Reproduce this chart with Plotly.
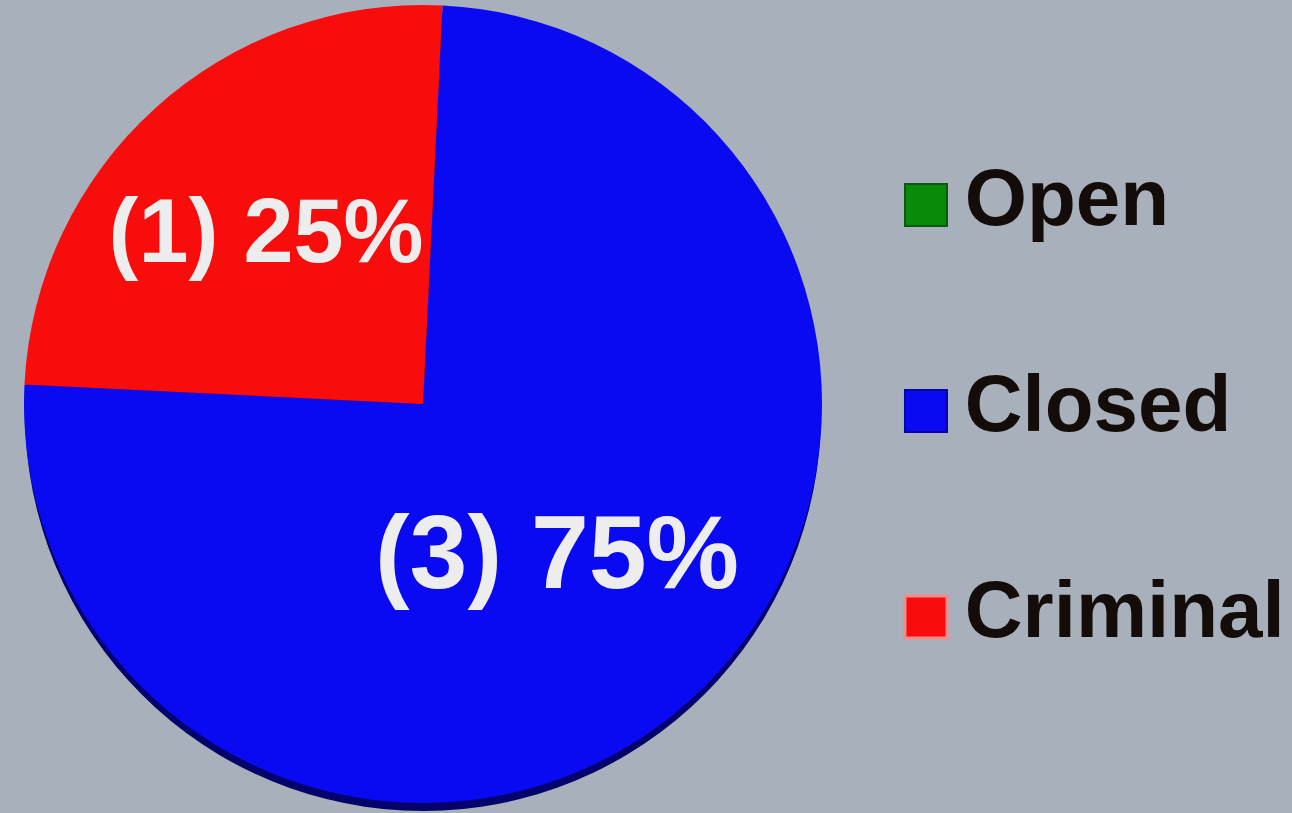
import plotly.graph_objects as go

# ---- data ----
categories = ["Open", "Closed", "Criminal"]
counts = [0, 3, 1]
slice_colors = ["#0A8A0A", "#0A0AF2", "#F80C0C"]
rim_colors = ["#064006", "#03036A", "#700606"]
legend_border = ["#0B5A0B", "#0606A8", "#F28C8C"]
legend_border_w = [2, 2, 3]

BG = "#A8B0BB"
FONT = "Liberation Sans, Arial, sans-serif"

W, H = 1292, 813
CX, CY, R = 423, 404, 399   # pie centre / radius in px
RIM = 9                      # thickness of the darker rim below


def dom(cx, cy, r):
    return dict(x=[(cx - r) / W, (cx + r) / W],
                y=[1 - (cy + r) / H, 1 - (cy - r) / H])


fig = go.Figure()

# darker rim (pie thickness)
fig.add_trace(go.Pie(
    labels=categories, values=counts, sort=False,
    direction="clockwise", rotation=2.8,
    marker=dict(colors=rim_colors, line=dict(width=0)),
    textinfo="none", domain=dom(CX, CY + RIM, R - 1),
    showlegend=False, hoverinfo="skip",
))

fig.add_trace(go.Pie(
    labels=categories,
    values=counts,
    sort=False,
    direction="clockwise",
    rotation=2.8,
    marker=dict(colors=slice_colors, line=dict(width=0)),
    texttemplate="(%{value}) %{percent}",
    textposition="inside",
    insidetextorientation="horizontal",
    insidetextfont=dict(family=FONT, size=104, color="#EDEDED", weight="bold"),
    domain=dom(CX, CY, R),
    showlegend=False,
    hoverinfo="label+value+percent",
))

# legend drawn as a categorical scatter (markers + labels)
fig.add_trace(go.Scatter(
    x=[0] * len(categories),
    y=categories,
    mode="markers",
    marker=dict(symbol="square", size=42, color=slice_colors,
                line=dict(color=legend_border, width=legend_border_w)),
    xaxis="x2", yaxis="y2",
    cliponaxis=False, showlegend=False, hoverinfo="skip",
))
fig.add_trace(go.Scatter(
    x=[0.1] * len(categories),
    y=categories,
    mode="text",
    text=categories,
    textposition="middle right",
    textfont=dict(family=FONT, size=80, color="#140C08", weight="bold"),
    xaxis="x2", yaxis="y2",
    cliponaxis=False, showlegend=False, hoverinfo="skip",
))

fig.update_layout(
    width=W, height=H,
    margin=dict(l=0, r=0, t=0, b=0),
    paper_bgcolor=BG, plot_bgcolor=BG,
    xaxis2=dict(domain=[0.70, 1.0], range=[-0.0557, 0.9443], visible=False,
                anchor="y2", fixedrange=True),
    yaxis2=dict(domain=[0.1144, 0.8745], type="category",
                categoryorder="array", categoryarray=categories,
                range=[2.5, -0.5], visible=False, anchor="x2", fixedrange=True),
)

fig.write_html(
    "out.html",
    config={"displayModeBar": False},
    post_script="document.body.style.margin='0';"
                "document.body.style.overflow='hidden';"
                "document.body.style.background='" + BG + "';",
)
